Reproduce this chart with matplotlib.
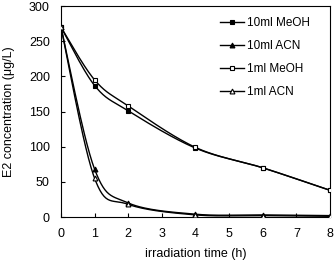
import numpy as np
import matplotlib
matplotlib.use('Agg')
import matplotlib.pyplot as plt

plt.rcParams['font.family'] = ['Liberation Sans', 'DejaVu Sans']

hours = [0, 1, 2, 4, 6, 8]
meoh_10 = [270, 187, 151, 98, 70, 38]
acn_10 = [270, 68, 20, 4, 3, 2]
meoh_1 = [270, 195, 158, 99, 70, 38]
acn_1 = [270, 55, 18, 3, 2, 1]


def smooth(x, y, sx, sy, n=30):
    # excel-style smoothed line: cubic bezier with catmull-rom control points
    x = np.asarray(x, float) / sx
    y = np.asarray(y, float) / sy
    pts = np.column_stack([x, y])
    out = [pts[0]]
    t = np.linspace(0, 1, n)[1:, None]
    for i in range(len(pts) - 1):
        p0 = pts[i - 1] if i > 0 else pts[i]
        p1, p2 = pts[i], pts[i + 1]
        p3 = pts[i + 2] if i + 2 < len(pts) else pts[i + 1]
        c1 = p1 + (p2 - p0) / 6
        c2 = p2 - (p3 - p1) / 6
        seg = ((1 - t) ** 3) * p1 + 3 * ((1 - t) ** 2) * t * c1 + 3 * (1 - t) * t ** 2 * c2 + t ** 3 * p2
        out.extend(seg)
    out = np.array(out)
    return out[:, 0] * sx, out[:, 1] * sy


fig = plt.figure(figsize=(3.35, 2.64), dpi=100)
ax = fig.add_axes([0.182, 0.178, 0.803, 0.799])

series = [
    (meoh_10, 's', 'black', '10ml MeOH'),
    (acn_10, '^', 'black', '10ml ACN'),
    (meoh_1, 's', 'white', '1ml MeOH'),
    (acn_1, '^', 'white', '1ml ACN'),
]
for vals, mk, fc, lab in series:
    sx_, sy_ = smooth(hours, vals, 8.0, 300.0 * 0.8)
    ax.plot(sx_, sy_, color='black', lw=1.0, zorder=2)
    ax.plot(hours, vals, ls='none', marker=mk, ms=3.5, mfc=fc, mec='black', mew=0.8, zorder=3)
    ax.plot([], [], color='black', lw=1.0, marker=mk, ms=3.5, mfc=fc, mec='black', mew=0.8, label=lab)

ax.set_xlim(0, 8)
ax.set_ylim(0, 300)
ax.set_xticks(range(0, 9))
ax.set_yticks(range(0, 301, 50))
ax.tick_params(direction='in', length=3, labelsize=9, width=0.8)
ax.tick_params(axis='x', pad=8)
ax.tick_params(axis='y', pad=8)
for s in ax.spines.values():
    s.set_linewidth(0.8)
ax.set_xlabel('irradiation time (h)', fontsize=9, labelpad=6)
ax.set_ylabel('E2 concentration (μg/L)', fontsize=9, labelpad=10)

ax.legend(loc='upper right', bbox_to_anchor=(0.965, 1.0), frameon=False, fontsize=8.5,
          handlelength=2.0, handletextpad=0.25, labelspacing=0.95, borderaxespad=0.5)

fig.savefig('out.png', dpi=100)
